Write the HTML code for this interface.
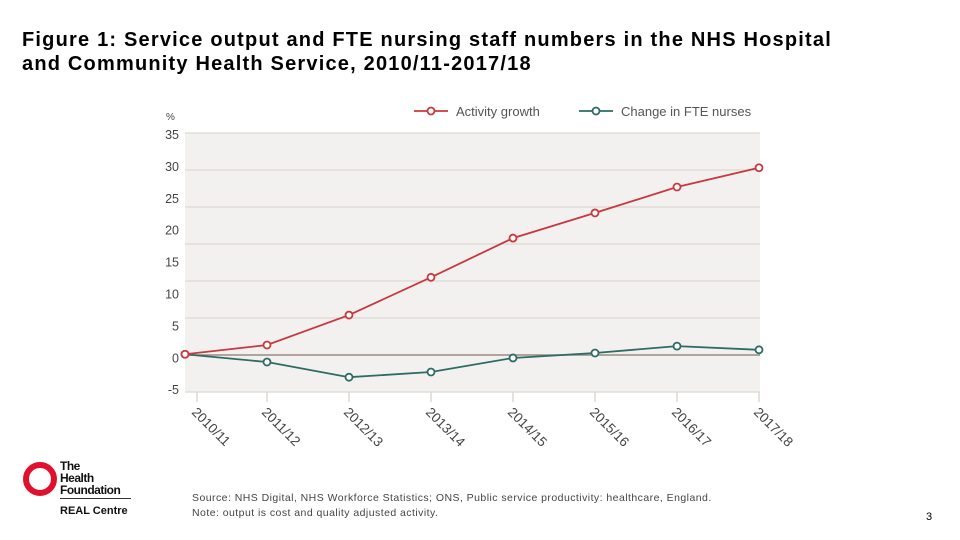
<!DOCTYPE html>
<html><head><meta charset="utf-8"><style>
body{margin:0;width:960px;height:540px;background:#fff;font-family:"Liberation Sans",sans-serif;position:relative;overflow:hidden}
.t{position:absolute}
</style></head><body>
<div class="t" style="left:22px;top:28px;font-size:20px;letter-spacing:1.2px;font-weight:bold;line-height:24px;color:#000;white-space:nowrap">Figure 1: Service output and FTE nursing staff numbers in the NHS Hospital<br>and Community Health Service, 2010/11-2017/18</div>
<svg id="chart" width="960" height="540" style="position:absolute;left:0;top:0"></svg>
<div class="t" style="left:22px;top:460px;width:120px;height:60px">
 <div style="position:absolute;left:1px;top:2px;width:22px;height:22px;border:6px solid #e0102f;border-radius:50%"></div>
 <div style="position:absolute;left:38px;top:0;font-size:12px;font-weight:bold;line-height:12px;letter-spacing:-0.5px;color:#111">The<br>Health<br>Foundation</div>
 <div style="position:absolute;left:38px;top:38px;width:71px;border-top:1px solid #333"></div>
 <div style="position:absolute;left:38px;top:45px;font-size:11px;font-weight:bold;color:#111">REAL Centre</div>
</div>
<div class="t" style="left:192px;top:491px;font-size:10.5px;letter-spacing:0.45px;line-height:15px;color:#444;white-space:nowrap">Source: NHS Digital, NHS Workforce Statistics; ONS, Public service productivity: healthcare, England.<br>Note: output is cost and quality adjusted activity.</div>
<div class="t" style="left:926px;top:511px;font-size:11px;color:#000">3</div>
<script>
const categories=["2010/11","2011/12","2012/13","2013/14","2014/15","2015/16","2016/17","2017/18"];
const activity=[0.1,1.35,5.4,10.5,15.8,19.2,22.7,25.3];
const fte=[0.1,-0.95,-3.0,-2.3,-0.4,0.27,1.2,0.7];
const gridValues=[-5,0,5,10,15,20,25,30];
const tickLabels=["35","30","25","20","15","10","5","0","-5"];
const svg=document.getElementById('chart');const NS='http://www.w3.org/2000/svg';
function mk(tag,attrs,parent){const e=document.createElementNS(NS,tag);for(const k in attrs)e.setAttribute(k,attrs[k]);(parent||svg).appendChild(e);return e;}
const x0=185,dx=(759-185)/(categories.length-1);
const xS=i=>x0+i*dx;
const yS=v=>355-v*7.4;
const plot=mk('rect',{x:185,y:yS(30),width:575,height:yS(-5)-yS(30),fill:'#f2f1f0'});


gridValues.forEach(v=>{const g=mk('line',{x1:185,x2:760,y1:yS(v),y2:yS(v),stroke:v===0?'#9a8a80':'#ddd8cf','stroke-width':v===0?1.5:1.2});

});
tickLabels.forEach((t,i)=>{const e=mk('text',{x:179,y:139+i*31.9,'text-anchor':'end','font-size':12.5,fill:'#444'});e.textContent=t;

});
const pct=mk('text',{x:166,y:120,'font-size':10,fill:'#444'});pct.textContent='%';


categories.forEach((c,i)=>{const x=xS(i)+(i===0?12:0);
const tk=mk('line',{x1:x,x2:x,y1:392,y2:402,stroke:'#ddd8cf','stroke-width':1.5});


const lx=x-6,ly=413;
const e=mk('text',{x:lx,y:ly,'font-size':13.5,fill:'#444',transform:`rotate(45 ${lx} ${ly})`});e.textContent=c;

});
function series(vals,color,name){
const p=mk('polyline',{points:vals.map((v,i)=>xS(i)+','+yS(v)).join(' '),fill:'none',stroke:color,'stroke-width':1.8});


vals.forEach((v,i)=>{const c=mk('circle',{cx:xS(i),cy:yS(v),r:3.5,fill:'#fff',stroke:color,'stroke-width':1.8});

});}
series(fte,'#2e6b64','fte');
series(activity,'#c8383e','activity');
function legend(x,color,label,name){
const l=mk('line',{x1:x,x2:x+34,y1:111,y2:111,stroke:color,'stroke-width':1.8});


const c=mk('circle',{cx:x+17,cy:111,r:3.5,fill:'#fff',stroke:color,'stroke-width':1.8});


const t=mk('text',{x:x+42,y:116,'font-size':13,fill:'#555'});t.textContent=label;

}
legend(414,'#c8383e','Activity growth','activity');
legend(579,'#2e6b64','Change in FTE nurses','fte');
</script>
</body></html>
